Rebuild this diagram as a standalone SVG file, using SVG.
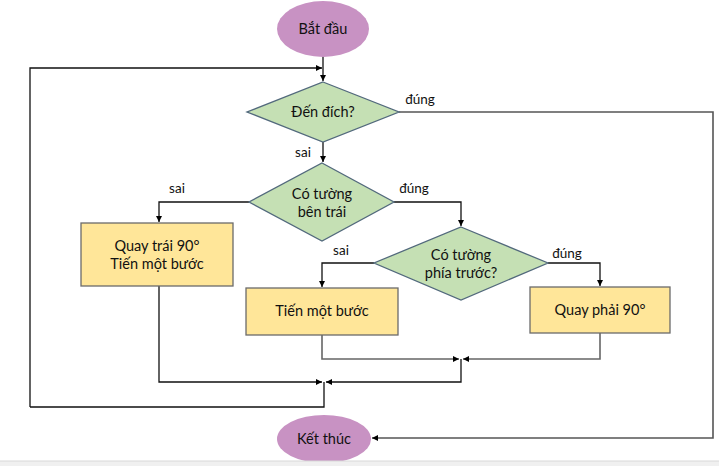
<svg xmlns="http://www.w3.org/2000/svg" width="719" height="466" viewBox="0 0 719 466">
<defs>
<marker id="ah" viewBox="0 0 10 10" refX="10" refY="5" markerWidth="6" markerHeight="6" orient="auto" markerUnits="userSpaceOnUse">
<path d="M0,0 L10,5 L0,10 z" fill="#000"/>
</marker>
</defs>
<style>
text{font-family:Lato,"Open Sans","Liberation Sans",sans-serif;font-size:14.5px;fill:#111;text-anchor:middle}
.term{fill:#c892c3;stroke:none}
.dec{fill:#c5e0b4;stroke:#52697c;stroke-width:1.3}
.proc{fill:#ffe699;stroke:#6b6b6b;stroke-width:1.3}
.c{fill:none;stroke:#111;stroke-width:1.3}
.g{fill:none;stroke:#666;stroke-width:1.6}
.lbl{font-size:13.5px}
</style>
<rect width="719" height="466" fill="#fff"/>
<g id="connectors">
<path class="c" d="M323,56 V81" marker-end="url(#ah)"/>
<path class="c" d="M30,407 V68 H322" marker-end="url(#ah)"/>
<path class="g" d="M399,112 H713 V438 H372" marker-end="url(#ah)" style="stroke:#555"/>
<path class="c" d="M323,142 V162" marker-end="url(#ah)"/>
<path class="c" d="M249,202 H159 V222" marker-end="url(#ah)"/>
<path class="c" d="M394,202 H461 V226" marker-end="url(#ah)"/>
<path class="c" d="M374,263 H322 V287" marker-end="url(#ah)"/>
<path class="c" d="M548,263 H600 V286" marker-end="url(#ah)"/>
<path class="g" d="M322,335 V359 H459" marker-end="url(#ah)"/>
<path class="g" d="M600,333 V359 H463" marker-end="url(#ah)"/>
<path class="c" d="M461,359 V382 H326" marker-end="url(#ah)"/>
<path class="c" d="M159,286 V382 H322" marker-end="url(#ah)"/>
<path class="c" d="M324,382 V407 H30"/>
</g>
<g id="start">
<ellipse class="term" cx="323" cy="29" rx="46" ry="28"/>
<text x="323" y="34">Bắt đầu</text>
</g>
<g id="d1">
<polygon class="dec" points="323,82 399,112 323,142 247,112"/>
<text x="323" y="117">Đến đích?</text>
</g>
<text class="lbl" x="420" y="104">đúng</text>
<text class="lbl" x="303" y="157">sai</text>
<g id="d2">
<polygon class="dec" points="322,163 394,202 322,241 249,202"/>
<text x="322" y="199">Có tường</text>
<text x="322" y="217">bên trái</text>
</g>
<text class="lbl" x="177" y="193">sai</text>
<text class="lbl" x="414" y="193">đúng</text>
<g id="p1">
<rect class="proc" x="81" y="223" width="152" height="63"/>
<text x="157" y="251">Quay trái 90°</text>
<text x="157" y="269">Tiến một bước</text>
</g>
<g id="d3">
<polygon class="dec" points="461,227 548,263 461,300 374,263"/>
<text x="461" y="260">Có tường</text>
<text x="461" y="278">phía trước?</text>
</g>
<text class="lbl" x="341" y="255">sai</text>
<text class="lbl" x="567" y="258">đúng</text>
<g id="p2">
<rect class="proc" x="246" y="288" width="152" height="47"/>
<text x="322" y="316">Tiến một bước</text>
</g>
<g id="p3">
<rect class="proc" x="530" y="287" width="140" height="46"/>
<text x="600" y="315">Quay phải 90°</text>
</g>
<g id="end">
<ellipse class="term" cx="324" cy="439" rx="47" ry="24"/>
<text x="324" y="444">Kết thúc</text>
</g>
<rect x="0" y="461" width="719" height="5" fill="#f0f0f0"/>
<line x1="0" y1="461" x2="719" y2="461" stroke="#d8d8d8" stroke-width="1"/>
</svg>
